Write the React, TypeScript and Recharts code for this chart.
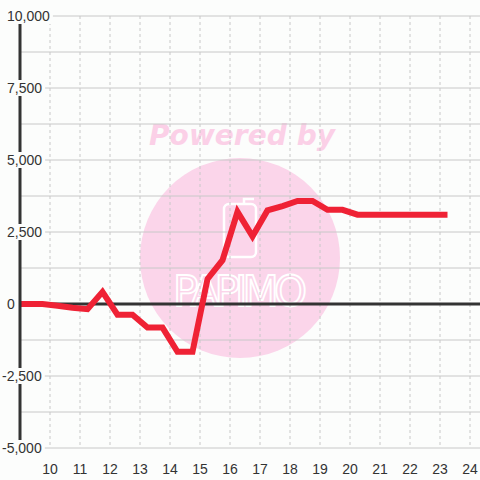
import { LineChart, Line, XAxis, YAxis, CartesianGrid, ReferenceLine } from 'recharts';

const BG = '#fcfdfc';

// hour of day and running value
const hours = [9, 9.75, 10.25, 10.75, 11.25, 11.75, 12.25, 12.75, 13.25, 13.75, 14.25, 14.75, 15.25, 15.75, 16.25, 16.75, 17.25, 17.75, 18.25, 18.75, 19.25, 19.75, 20.25, 20.75, 21.25, 21.75, 22.25, 22.75, 23.25];
const values = [0, 0, -60, -130, -180, 420, -370, -370, -820, -820, -1660, -1660, 870, 1520, 3200, 2350, 3250, 3400, 3580, 3580, 3270, 3270, 3100, 3100, 3100, 3100, 3100, 3100, 3100];

const xTicks = [10, 11, 12, 13, 14, 15, 16, 17, 18, 19, 20, 21, 22, 23, 24];
const yTicks = [-5000, -2500, 0, 2500, 5000, 7500, 10000];
const yGrid = [-5000, -3750, -2500, -1250, 0, 1250, 2500, 3750, 5000, 6250, 7500, 8750, 10000];

const data = hours.map((t, i) => ({ t, v: values[i] }));

const fmt = (v: number) => v.toLocaleString('en-US');

function textWidth(s: string) {
    let w = 0;
    for (const c of s) w += c === ',' ? 3.9 : c === '-' ? 4.7 : 7.8;
    return w;
}

function YTick(props: any) {
    const { y, payload } = props;
    const label = fmt(payload.value);
    const x0 = payload.value < 0 ? 2 : 7;
    const w = textWidth(label);
    return (
        <g>
            <rect x={x0 - 1} y={y - 8} width={w + 4} height={16} fill={BG} />
            <text x={x0} y={y + 5} fontSize={14} fill="#333" fontFamily="'Liberation Sans', Arial, sans-serif">{label}</text>
        </g>
    );
}

function XTick(props: any) {
    const { x, y, payload } = props;
    return (
        <text x={x} y={y + 18} textAnchor="middle" fontSize={14} fill="#333" fontFamily="'Liberation Sans', Arial, sans-serif">
            {payload.value}
        </text>
    );
}

function Watermark() {
    return (
        <svg width={480} height={480} style={{ position: 'absolute', left: 0, top: 0 }}>
            <text x={242} y={145} textAnchor="middle" fontSize={28} fontWeight="bold" fontStyle="italic" fill="#fbd0e7" textLength={186} fontFamily="'DejaVu Sans', sans-serif">
                Powered by
            </text>
            <circle cx={240} cy={258} r={100} fill="#fbd5ea" />
            <rect x={224} y={204} width={32} height={53} rx={5} fill="none" stroke="#fff" strokeWidth={2.5} />
            <path d="M244 204 L244 199 L254 199" fill="none" stroke="#fff" strokeWidth={2.5} />
            <text x={240} y={306} textAnchor="middle" fontSize={42} fill="none" stroke="#fff" strokeWidth={1.8} textLength={134} fontFamily="'DejaVu Sans', sans-serif">
                PAPIMO
            </text>
        </svg>
    );
}

export default function App() {
    return (
        <div style={{ position: 'fixed', left: 0, top: 0, width: 480, height: 480, background: BG }}>
            <Watermark />
            <div style={{ position: 'absolute', left: 0, top: 0 }}>
                <LineChart width={480} height={480} data={data} margin={{ top: 16, right: 0, bottom: 0, left: 0 }}>
                    <CartesianGrid vertical={false} horizontalValues={yGrid} stroke="#c8c8c8" />
                    <CartesianGrid horizontal={false} verticalValues={xTicks} stroke="#c8c8c8" strokeDasharray="3 3" />
                    <XAxis dataKey="t" type="number" domain={[9, 24.3333]} ticks={xTicks} allowDataOverflow height={32} axisLine={false} tickLine={false} tick={(p: any) => <XTick {...p} />} />
                    <YAxis type="number" domain={[-5000, 10000]} ticks={yTicks} width={20} axisLine={{ stroke: '#333', strokeWidth: 3 }} tickLine={false} tick={(p: any) => <YTick {...p} />} />
                    <ReferenceLine y={0} stroke="#333" strokeWidth={3} />
                    <Line type="linear" dataKey="v" stroke="#ef2235" strokeWidth={6} dot={false} isAnimationActive={false} />
                </LineChart>
            </div>
        </div>
    );
}
